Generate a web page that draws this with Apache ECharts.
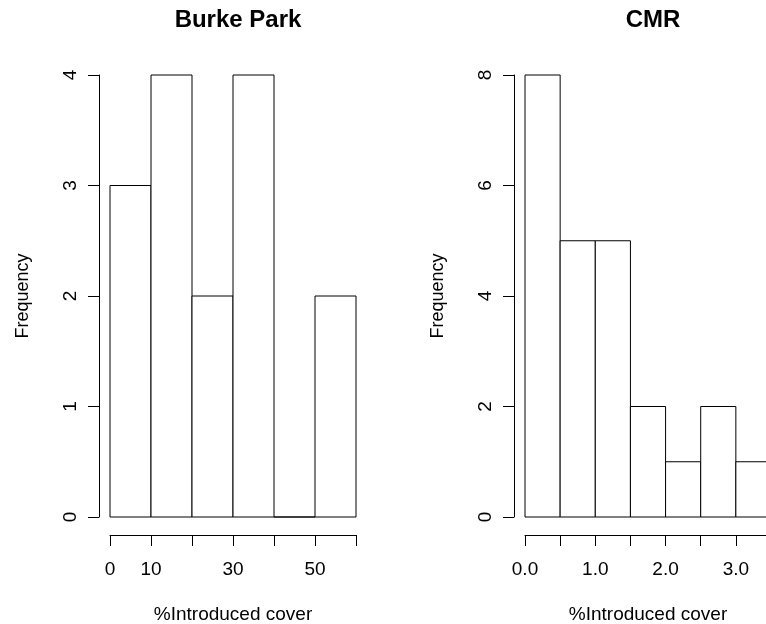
<!DOCTYPE html>
<html>
<head>
<meta charset="utf-8">
<script src="https://cdn.jsdelivr.net/npm/echarts@6/dist/echarts.min.js"></script>
<style>html,body{margin:0;padding:0;background:#fff}#c{width:766px;height:624px}</style>
</head>
<body>
<div id="c"></div>
<script>
// ---- data ----
const burkeBreaks = [0, 10, 20, 30, 40, 50, 60];
const burkeCounts = [3, 4, 2, 4, 0, 2];
const cmrBreaks = [0, 0.5, 1.0, 1.5, 2.0, 2.5, 3.0, 3.5];
const cmrCounts = [8, 5, 5, 2, 1, 2, 1];
const burkeXLabels = [0, 10, 30, 50];
const cmrXLabels = [0, 1, 2, 3];
const titles = ['Burke Park', 'CMR'];
const xTitle = '%Introduced cover';
const yTitle = 'Frequency';

function bins(breaks, counts) {
  return counts.map((c, i) => [breaks[i], breaks[i + 1], c]);
}

const FONT = 'Liberation Sans, Arial, sans-serif';
const lineStyle = { color: '#000', width: 1 };

function renderItem(params, api) {
  const p0 = api.coord([api.value(0), api.value(2)]);
  const p1 = api.coord([api.value(1), 0]);
  return {
    type: 'rect',
    shape: { x: p0[0], y: p0[1], width: p1[0] - p0[0], height: p1[1] - p0[1] },
    style: { fill: '#fff', stroke: '#000', lineWidth: 1 }
  };
}

function xAxisDef(gridIndex, max, interval, labels, decimals) {
  return {
    type: 'value', gridIndex, min: 0, max, interval,
    position: 'bottom', offset: 18,
    splitLine: { show: false },
    axisLine: { show: true, onZero: false, lineStyle },
    axisTick: { show: true, length: 11, inside: false, lineStyle },
    axisLabel: {
      margin: 25, fontSize: 19, color: '#000', fontFamily: FONT,
      showMinLabel: true, showMaxLabel: true, hideOverlap: false,
      formatter: v => labels.some(l => Math.abs(l - v) < 1e-9) ? v.toFixed(decimals) : ''
    },
    name: xTitle, nameLocation: 'middle', nameGap: 70,
    nameTextStyle: { fontSize: 19, color: '#000', fontFamily: FONT }
  };
}

function yAxisDef(gridIndex, max, interval) {
  return {
    type: 'value', gridIndex, min: 0, max, interval,
    position: 'left', offset: 11,
    splitLine: { show: false },
    axisLine: { show: true, onZero: false, lineStyle },
    axisTick: { show: true, length: 11, inside: false, lineStyle },
    axisLabel: {
      margin: 19, fontSize: 19, color: '#000', fontFamily: FONT, rotate: 90,
      align: 'center', verticalAlign: 'bottom'
    },
    name: yTitle, nameLocation: 'middle', nameGap: 67, nameRotate: 90,
    nameTextStyle: { fontSize: 18, color: '#000', fontFamily: FONT }
  };
}

const chart = echarts.init(document.getElementById('c'), null, { renderer: 'canvas' });
chart.setOption({
  animation: false,
  backgroundColor: '#fff',
  title: [
    { text: titles[0], left: 233, top: 3, textAlign: 'center',
      textStyle: { fontSize: 24, fontWeight: 'bold', color: '#000', fontFamily: FONT } },
    { text: titles[1], left: 648, top: 3, textAlign: 'center',
      textStyle: { fontSize: 24, fontWeight: 'bold', color: '#000', fontFamily: FONT } }
  ],
  grid: [
    { left: 110, top: 75, width: 246, height: 442, outerBoundsMode: 'none', containLabel: false },
    { left: 525, top: 75, width: 246, height: 442, outerBoundsMode: 'none', containLabel: false }
  ],
  xAxis: [
    xAxisDef(0, 60, 10, burkeXLabels, 0),
    xAxisDef(1, 3.5, 0.5, cmrXLabels, 1)
  ],
  yAxis: [
    yAxisDef(0, 4, 1),
    yAxisDef(1, 8, 2)
  ],
  series: [
    { type: 'custom', xAxisIndex: 0, yAxisIndex: 0, renderItem,
      encode: { x: [0, 1], y: 2 }, data: bins(burkeBreaks, burkeCounts), clip: false },
    { type: 'custom', xAxisIndex: 1, yAxisIndex: 1, renderItem,
      encode: { x: [0, 1], y: 2 }, data: bins(cmrBreaks, cmrCounts), clip: false }
  ]
});
</script>
</body>
</html>
